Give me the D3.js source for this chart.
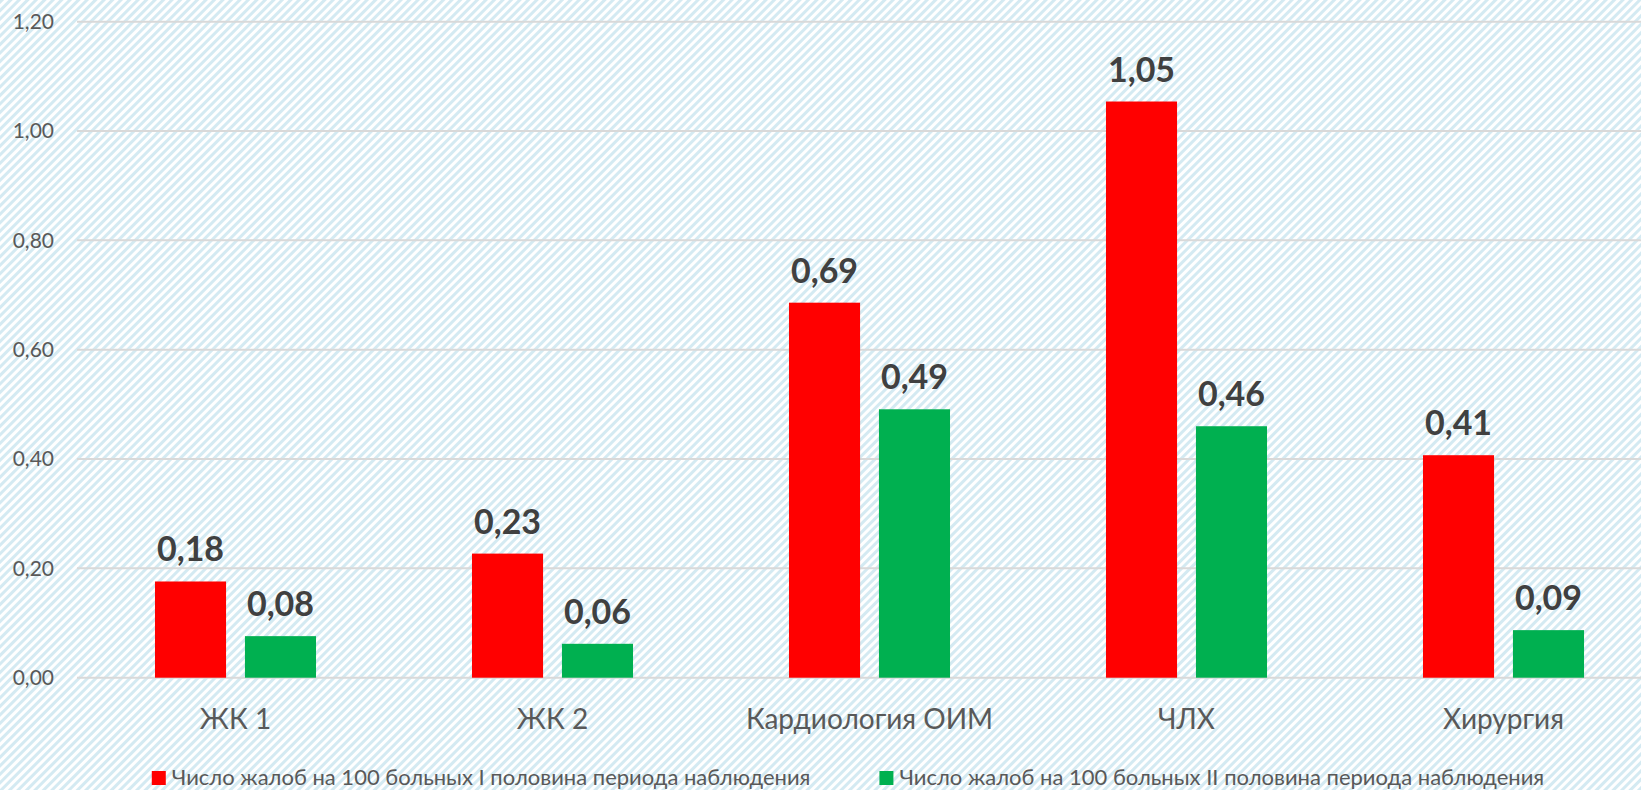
<!DOCTYPE html>
<html>
<head>
<meta charset="utf-8">
<script src="https://cdn.jsdelivr.net/npm/d3@7"></script>
<style>
  html, body { margin: 0; padding: 0; background: #fff; }
  svg { display: block; font-family: Lato, "Open Sans", sans-serif; }
</style>
</head>
<body>
<div id="chart"></div>
<script>
// Chart values
const categories = ["ЖК 1", "ЖК 2", "Кардиология ОИМ", "ЧЛХ", "Хирургия"];
const seriesNames = [
  "Число жалоб на 100 больных I половина периода наблюдения",
  "Число жалоб на 100 больных II половина периода наблюдения",
];
const firstHalf = [0.176, 0.227, 0.686, 1.054, 0.407];
const secondHalf = [0.076, 0.062, 0.491, 0.46, 0.087];
const yTicks = [0, 0.2, 0.4, 0.6, 0.8, 1.0, 1.2];
const colors = ["#ff0000", "#00b050"];

const width = 1641;
const height = 790;

const svg = d3
  .select("#chart")
  .append("svg")
  .attr("width", width)
  .attr("height", height);

// hatched background
const defs = svg.append("defs");
const pattern = defs
  .append("pattern")
  .attr("id", "hatch")
  .attr("patternUnits", "userSpaceOnUse")
  .attr("width", 6)
  .attr("height", 6)
  .attr("patternTransform", "rotate(45)");
pattern.append("rect").attr("width", 6).attr("height", 6).attr("fill", "#ffffff");
pattern.append("rect").attr("width", 3).attr("height", 6).attr("fill", "#d4eaf2");

svg
  .append("rect")
  .attr("width", width)
  .attr("height", height)
  .attr("fill", "url(#hatch)");

const data = categories.map((c, i) => ({
  category: c,
  values: [firstHalf[i], secondHalf[i]],
}));

const xScale = d3
  .scaleBand()
  .domain(categories)
  .range([77, 1662])
  .paddingInner(0.492)
  .paddingOuter(0.246);

const xSub = d3
  .scaleBand()
  .domain([0, 1])
  .range([0, xScale.bandwidth()])
  .paddingInner(0.21);

const yScale = d3.scaleLinear().domain([0, 1.2]).range([677.7, 21.7]);

const fmt = (d) => d.toFixed(2).replace(".", ",");

// gridlines
svg
  .append("g")
  .attr("class", "gridlines")
  .selectAll("line")
  .data(yTicks)
  .join("line")
  .attr("x1", 77)
  .attr("x2", width)
  .attr("y1", (d) => yScale(d))
  .attr("y2", (d) => yScale(d))
  .attr("stroke", "#d9d9d9")
  .attr("stroke-width", 2);

// y axis labels
svg
  .append("g")
  .selectAll("text")
  .data(yTicks)
  .join("text")
  .attr("x", 54)
  .attr("y", (d) => yScale(d))
  .attr("dy", "0.35em")
  .attr("text-anchor", "end")
  .attr("fill", "#595959")
  .style("font-size", "21px")
  .text(fmt);

// bars
const groups = svg
  .append("g")
  .selectAll("g")
  .data(data)
  .join("g")
  .attr("transform", (d) => `translate(${xScale(d.category)},0)`);

groups
  .selectAll("rect")
  .data((d) => d.values)
  .join("rect")
  .attr("x", (d, i) => xSub(i))
  .attr("width", xSub.bandwidth())
  .attr("y", (d) => yScale(d))
  .attr("height", (d) => yScale(0) - yScale(d))
  .attr("fill", (d, i) => colors[i]);

groups
  .selectAll("text.value")
  .data((d) => d.values)
  .join("text")
  .attr("class", "value")
  .attr("x", (d, i) => xSub(i) + xSub.bandwidth() / 2)
  .attr("y", (d) => yScale(d) - 20)
  .attr("text-anchor", "middle")
  .attr("fill", "#404040")
  .style("font-size", "34px")
  .style("font-weight", "bold")
  .text(fmt);

// category labels
svg
  .append("g")
  .selectAll("text")
  .data(categories)
  .join("text")
  .attr("x", (d) => xScale(d) + xScale.bandwidth() / 2)
  .attr("y", 729)
  .attr("text-anchor", "middle")
  .attr("fill", "#595959")
  .style("font-size", "28px")
  .text((d) => d);

// legend
const legend = svg.append("g");
const items = legend
  .selectAll("g")
  .data(seriesNames)
  .join("g");
items
  .append("rect")
  .attr("width", 14)
  .attr("height", 14)
  .attr("y", -14)
  .attr("fill", (d, i) => colors[i]);
items
  .append("text")
  .attr("x", 20)
  .attr("y", 0)
  .attr("fill", "#595959")
  .style("font-size", "22px")
  .text((d) => d);

let xPos = 0;
items.each(function () {
  d3.select(this).attr("transform", `translate(${xPos},0)`);
  xPos += this.getBBox().width + 69;
});
const legendWidth = xPos - 69;
legend.attr("transform", `translate(${848 - legendWidth / 2},785)`);
</script>
</body>
</html>
